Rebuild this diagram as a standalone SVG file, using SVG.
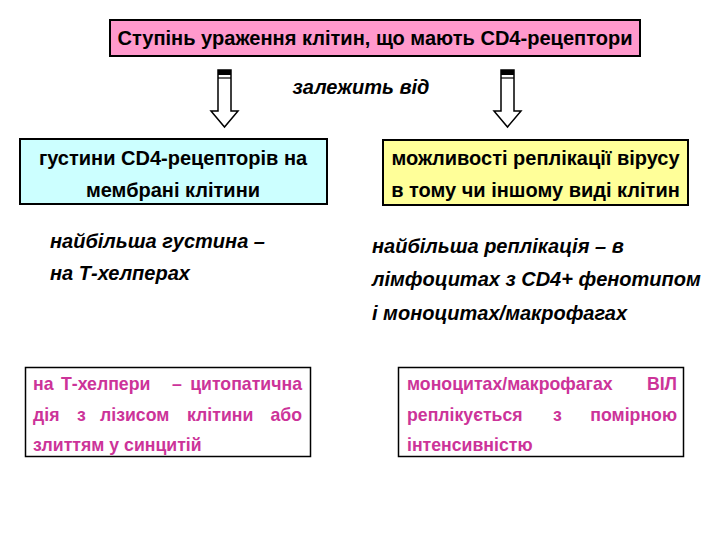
<svg xmlns="http://www.w3.org/2000/svg" width="720" height="540" viewBox="0 0 720 540">
<style>
.t{font-family:"Liberation Sans",Arial,sans-serif;font-weight:bold;fill:#000}
.h{font-size:20px}
.m{font-size:20px}
.i{font-family:"Liberation Sans",Arial,sans-serif;font-weight:bold;font-style:italic;font-size:20px;fill:#000}
.p{font-family:"Liberation Sans",Arial,sans-serif;font-weight:bold;font-size:17.7px;fill:#CC3399}
.box{stroke:#000;stroke-width:2}
.arr{fill:#fff;stroke:#000;stroke-width:1.5}
</style>
<rect width="720" height="540" fill="#fff"/>
<g id="title">
<rect class="box" x="110" y="20" width="530" height="36" fill="#FF99CC"/>
<text class="t h" x="375" y="45" text-anchor="middle" textLength="515" lengthAdjust="spacingAndGlyphs">Ступінь ураження клітин, що мають CD4-рецептори</text>
</g>
<g id="connectors">
<g id="arrow-left">
<path class="arr" d="M218,70 H231 V111 H238 L224.5,127 L211,111 H218 Z"/>
<rect x="218" y="70" width="13" height="5" fill="#000"/>
<line x1="218" y1="78" x2="231" y2="78" stroke="#000" stroke-width="1.2"/>
</g>
<g id="arrow-right">
<path class="arr" d="M501,70 H514 V111 H521 L507.5,127 L494,111 H501 Z"/>
<rect x="501" y="70" width="13" height="5" fill="#000"/>
<line x1="501" y1="78" x2="514" y2="78" stroke="#000" stroke-width="1.2"/>
</g>
</g>
<g id="label-depends">
<text class="i" x="361" y="94" text-anchor="middle">залежить від</text>
</g>
<g id="density">
<rect class="box" x="20" y="139" width="307" height="65" fill="#CCFFFF"/>
<text class="t m" x="173" y="165" text-anchor="middle">густини CD4-рецепторів на</text>
<text class="t m" x="173" y="197" text-anchor="middle">мембрані клітини</text>
</g>
<g id="replication">
<rect class="box" x="383" y="140" width="305" height="65" fill="#FFFF99"/>
<text class="t m" x="535.5" y="165" text-anchor="middle">можливості реплікації вірусу</text>
<text class="t m" x="535.5" y="197" text-anchor="middle">в тому чи іншому виді клітин</text>
</g>
<g id="note-left">
<text class="i" x="50" y="248">найбільша густина –</text>
<text class="i" x="50" y="280">на Т-хелперах</text>
</g>
<g id="note-right">
<text class="i" x="372" y="253">найбільша реплікація – в</text>
<text class="i" x="372" y="286">лімфоцитах з CD4+ фенотипом</text>
<text class="i" x="372" y="320">і моноцитах/макрофагах</text>
</g>
<g id="result-left">
<rect x="25.5" y="367.5" width="285" height="89" fill="#fff" stroke="#000" stroke-width="1.5"/>
<text class="p" x="33" y="390">на</text>
<text class="p" x="61" y="390">Т-хелпери</text>
<text class="p" x="172" y="390">–</text>
<text class="p" x="302" y="390" text-anchor="end">цитопатична</text>
<text class="p" x="33" y="421">дія</text>
<text class="p" x="77" y="421">з</text>
<text class="p" x="100" y="421">лізисом</text>
<text class="p" x="187" y="421">клітини</text>
<text class="p" x="302" y="421" text-anchor="end">або</text>
<text class="p" x="33" y="451">злиттям у синцитій</text>
</g>
<g id="result-right">
<rect x="398.5" y="367.5" width="285" height="89" fill="#fff" stroke="#000" stroke-width="1.5"/>
<text class="p" x="407" y="390">моноцитах/макрофагах</text>
<text class="p" x="677" y="390" text-anchor="end">ВІЛ</text>
<text class="p" x="407" y="421">реплікується</text>
<text class="p" x="553" y="421">з</text>
<text class="p" x="677" y="421" text-anchor="end">помірною</text>
<text class="p" x="407" y="451">інтенсивністю</text>
</g>
</svg>
